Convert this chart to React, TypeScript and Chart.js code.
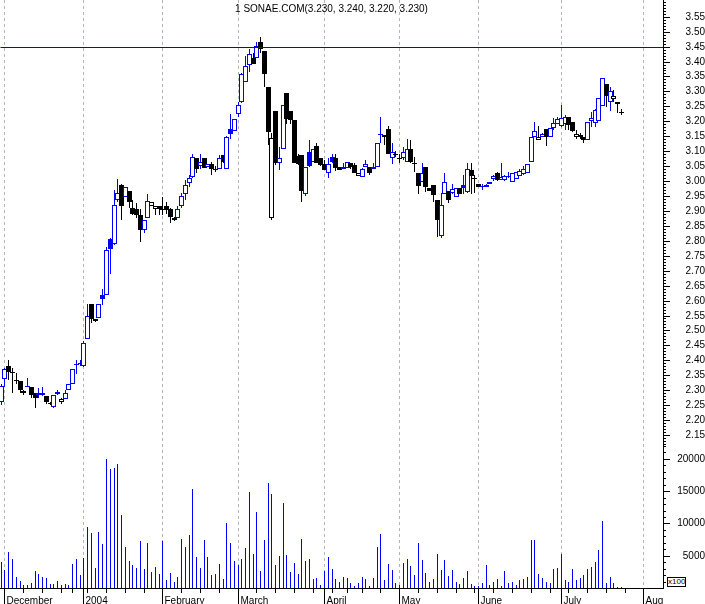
import React, { useEffect, useRef } from 'react';
import { Chart, registerables, LinearScale } from 'chart.js';

// Linear scales that snap to device pixels so thin marks render crisply
class PixelXScale extends LinearScale {
  static id = 'pixelX';
  static defaults = LinearScale.defaults;
  getPixelForValue(value: number) {
    return Math.floor(super.getPixelForValue(value)) + 0.5;
  }
}
class PixelYScale extends LinearScale {
  static id = 'pixelY';
  static defaults = LinearScale.defaults;
  getPixelForValue(value: number) {
    return Math.round(super.getPixelForValue(value));
  }
}
class HalfPixelYScale extends LinearScale {
  static id = 'halfPixelY';
  static defaults = LinearScale.defaults;
  getPixelForValue(value: number) {
    return Math.round(super.getPixelForValue(value)) + 0.5;
  }
}

Chart.register(...registerables, PixelXScale as any, PixelYScale as any, HalfPixelYScale as any);

const FONT = '"Liberation Sans", Arial, Helvetica, sans-serif';
const BLUE = '#0000ff';
const BLACK = '#000000';
const GRID = '#b4b4b4';

// Trading-day index of the first bar (0 = 1 December 2003)
const firstTradingDay = -1;

const opens = [
  2.261, 2.339, 2.381, 2.36, 2.331, 2.331, 2.29, 2.312, 2.31, 2.29,
  2.29, 2.292, 2.28, 2.253, 2.245, 2.293, 2.26, 2.27, 2.30, 2.32,
  2.385, 2.388, 2.38, 2.47, 2.588, 2.537, 2.54, 2.617, 2.62, 2.805,
  2.79, 2.935, 2.987, 2.948, 2.967, 2.91, 2.905, 2.885, 2.836, 2.875,
  2.917, 2.906, 2.917, 2.905, 2.915, 2.905, 2.87, 2.875, 2.917, 2.957,
  2.995, 3.015, 3.077, 3.05, 3.077, 3.046, 3.057, 3.039, 3.04, 3.087,
  3.04, 3.174, 3.166, 3.223, 3.265, 3.333, 3.39, 3.413, 3.413, 3.466,
  3.436, 3.316, 2.875, 3.234, 3.059, 3.106, 3.294, 3.234, 3.204, 3.085,
  3.087, 2.956, 3.096, 3.065, 3.117, 3.076, 3.057, 3.026, 3.079, 3.076,
  3.046, 3.039, 3.045, 3.059, 3.055, 3.017, 3.015, 3.046, 3.046, 3.039,
  3.046, 3.157, 3.154, 3.174, 3.076, 3.09, 3.076, 3.076, 3.065, 3.106,
  3.059, 3.026, 2.998, 3.046, 2.978, 2.987, 2.937, 2.816, 2.956, 2.967,
  2.959, 2.948, 2.976, 2.987, 2.965, 3.037, 3.01, 2.989, 2.979, 2.979,
  2.998, 3.006, 3.026, 3.004, 3.005, 3.013, 2.998, 3.006, 3.017, 3.025,
  3.026, 3.065, 3.146, 3.137, 3.149, 3.173, 3.149, 3.177, 3.19, 3.185,
  3.19, 3.215, 3.198, 3.146, 3.146, 3.146, 3.137, 3.20, 3.193, 3.20,
  3.25, 3.324, 3.266, 3.275, 3.266, 3.23,
];

const highs = [
  2.32, 2.375, 2.401, 2.374, 2.359, 2.331, 2.30, 2.34, 2.312, 2.29,
  2.306, 2.312, 2.28, 2.26, 2.284, 2.30, 2.275, 2.30, 2.32, 2.37,
  2.40, 2.40, 2.465, 2.588, 2.588, 2.537, 2.588, 2.638, 2.78, 2.81,
  2.97, 3.006, 2.99, 2.98, 2.967, 2.935, 2.925, 2.906, 2.87, 2.957,
  2.93, 2.917, 2.917, 2.948, 2.93, 2.91, 2.88, 2.915, 2.959, 3.003,
  3.02, 3.09, 3.077, 3.09, 3.077, 3.056, 3.064, 3.05, 3.087, 3.087,
  3.15, 3.224, 3.207, 3.265, 3.36, 3.42, 3.442, 3.43, 3.466, 3.483,
  3.436, 3.316, 3.16, 3.234, 3.115, 3.254, 3.294, 3.234, 3.204, 3.09,
  3.087, 3.046, 3.137, 3.106, 3.128, 3.076, 3.07, 3.076, 3.09, 3.09,
  3.046, 3.06, 3.065, 3.059, 3.059, 3.026, 3.045, 3.07, 3.046, 3.06,
  3.126, 3.215, 3.154, 3.185, 3.126, 3.10, 3.09, 3.115, 3.142, 3.137,
  3.08, 3.026, 3.059, 3.046, 2.978, 2.987, 2.937, 2.959, 3.028, 2.967,
  2.99, 2.978, 2.976, 3.02, 3.059, 3.06, 3.02, 2.99, 2.99, 2.99,
  2.998, 3.02, 3.03, 3.059, 3.02, 3.03, 3.026, 3.03, 3.04, 3.05,
  3.056, 3.149, 3.199, 3.184, 3.16, 3.173, 3.179, 3.21, 3.215, 3.254,
  3.22, 3.215, 3.198, 3.17, 3.16, 3.146, 3.199, 3.23, 3.24, 3.277,
  3.344, 3.324, 3.316, 3.305, 3.266, 3.24,
];

const lows = [
  2.25, 2.31, 2.334, 2.292, 2.321, 2.29, 2.283, 2.31, 2.273, 2.239,
  2.273, 2.28, 2.255, 2.25, 2.24, 2.285, 2.255, 2.27, 2.30, 2.32,
  2.355, 2.38, 2.379, 2.47, 2.524, 2.528, 2.54, 2.585, 2.62, 2.69,
  2.785, 2.93, 2.87, 2.945, 2.909, 2.885, 2.875, 2.797, 2.827, 2.875,
  2.917, 2.886, 2.886, 2.886, 2.89, 2.86, 2.865, 2.875, 2.91, 2.937,
  2.98, 3.01, 3.026, 3.04, 3.045, 3.046, 3.02, 3.03, 3.04, 3.06,
  3.04, 3.14, 3.166, 3.215, 3.26, 3.33, 3.366, 3.392, 3.413, 3.427,
  3.316, 3.12, 2.87, 3.054, 3.037, 3.106, 3.19, 3.19, 3.061, 3.055,
  2.93, 2.95, 3.046, 3.065, 3.059, 3.05, 3.037, 3.009, 3.06, 3.035,
  3.037, 3.039, 3.045, 3.04, 3.028, 3.017, 3.015, 3.046, 3.02, 3.039,
  3.046, 3.126, 3.12, 3.09, 3.057, 3.08, 3.06, 3.07, 3.065, 3.06,
  3.031, 2.957, 2.998, 2.965, 2.968, 2.93, 2.814, 2.81, 2.956, 2.926,
  2.955, 2.948, 2.955, 2.955, 2.96, 2.956, 2.959, 2.979, 2.97, 2.979,
  2.99, 3.0, 3.0, 3.004, 3.0, 3.01, 2.998, 3.006, 3.017, 3.02,
  3.026, 3.065, 3.146, 3.137, 3.149, 3.118, 3.149, 3.17, 3.19, 3.18,
  3.17, 3.17, 3.165, 3.14, 3.14, 3.126, 3.137, 3.18, 3.18, 3.20,
  3.25, 3.247, 3.235, 3.266, 3.227, 3.22,
];

const closes = [
  2.314, 2.37, 2.362, 2.36, 2.331, 2.301, 2.299, 2.312, 2.285, 2.275,
  2.283, 2.285, 2.26, 2.258, 2.284, 2.287, 2.27, 2.29, 2.32, 2.37,
  2.385, 2.388, 2.459, 2.55, 2.537, 2.53, 2.588, 2.606, 2.769, 2.772,
  2.92, 2.96, 2.917, 2.979, 2.93, 2.89, 2.885, 2.836, 2.87, 2.934,
  2.929, 2.917, 2.906, 2.905, 2.903, 2.88, 2.878, 2.905, 2.95, 2.987,
  3.01, 3.08, 3.04, 3.065, 3.045, 3.056, 3.04, 3.039, 3.076, 3.065,
  3.146, 3.156, 3.207, 3.254, 3.358, 3.386, 3.424, 3.392, 3.453, 3.442,
  3.357, 3.165, 3.145, 3.059, 3.076, 3.254, 3.207, 3.205, 3.061, 3.058,
  2.967, 3.046, 3.05, 3.106, 3.059, 3.055, 3.037, 3.057, 3.065, 3.045,
  3.037, 3.048, 3.065, 3.046, 3.028, 3.026, 3.039, 3.057, 3.028, 3.046,
  3.126, 3.157, 3.146, 3.09, 3.096, 3.09, 3.076, 3.096, 3.106, 3.065,
  3.059, 2.984, 3.026, 2.979, 2.968, 2.953, 2.87, 2.92, 2.998, 2.937,
  2.973, 2.978, 2.955, 2.978, 3.04, 3.017, 3.01, 2.979, 2.983, 2.987,
  2.99, 3.017, 3.004, 3.015, 3.017, 3.018, 3.026, 3.03, 3.035, 3.04,
  3.056, 3.149, 3.167, 3.149, 3.156, 3.146, 3.179, 3.195, 3.207, 3.212,
  3.215, 3.188, 3.168, 3.157, 3.155, 3.137, 3.199, 3.21, 3.238, 3.277,
  3.344, 3.285, 3.30, 3.285, 3.257, 3.23,
];

const volumes = [
  3960, 2740, 5640, 4420, 1730, 1070, 460, 460, 710, 2590,
  2130, 1680, 1580, 610, 610, 1070, 460, 610, 460, 3660,
  4570, 1980, 4720, 9450, 8530, 3050, 8690, 6860, 19960, 18440,
  18590, 19200, 11280, 6400, 4120, 3510, 3050, 7320, 2900, 7010,
  2440, 3200, 2130, 7320, 1220, 2290, 910, 1680, 7620, 6400,
  8230, 15390, 4880, 3050, 7470, 4880, 1980, 2130, 3660, 1370,
  10060, 7010, 4120, 3510, 4570, 6250, 14940, 5330, 11740, 2590,
  7470, 16310, 14630, 3510, 5030, 13110, 5180, 2440, 3810, 2130,
  7620, 4120, 4420, 1370, 1520, 460, 2590, 4880, 2900, 1370,
  910, 1680, 1520, 760, 300, 760, 1680, 1370, 300, 1520,
  6400, 8380, 1220, 3660, 2740, 760, 460, 3810, 4420, 3350,
  1980, 7010, 4270, 2290, 910, 1370, 5330, 2740, 4270, 1830,
  2740, 910, 610, 1520, 2590, 610, 300, 300, 760, 3510,
  460, 910, 1370, 300, 2590, 760, 910, 460, 1220, 1370,
  1680, 7470, 7470, 2130, 1520, 910, 760, 2900, 3050, 5330,
  1220, 910, 2900, 1220, 1520, 1980, 2900, 3200, 3960, 5940,
  10360, 760, 1680, 760, 150, 100,
];

// Axis labels and tick positions (trading-day indices)
const monthStartDays = [0, 21, 42, 62, 85, 105, 126, 148, 170];
const monthLabels = ['December', '2004', 'February', 'March', 'April', 'May', 'June', 'July', 'Aug'];
const weekStartDays = [5, 10, 15, 18, 22, 27, 32, 37, 47, 52, 57, 67, 72, 77, 82, 87, 91, 95, 100, 110, 115, 120, 125, 130, 135, 140, 145, 150, 155, 160, 165];
const priceTickLabels = [
  '2.15', '2.20', '2.25', '2.30', '2.35', '2.40', '2.45', '2.50', '2.55', '2.60',
  '2.65', '2.70', '2.75', '2.80', '2.85', '2.90', '2.95', '3.00', '3.05', '3.10',
  '3.15', '3.20', '3.25', '3.30', '3.35', '3.40', '3.45', '3.50', '3.55',
];
const volumeTickLabels = ['5000', '10000', '15000', '20000'];
const resistanceLevel = 3.45;
const titleText = '1 SONAE.COM(3.230, 3.240, 3.220, 3.230)';

// Scale ranges
const X_MIN = -1.33;
const X_MAX = 175.06;
const P_MIN = 2.1133;
const P_MAX = 3.6059;
const V_MAX = 22000;

const steps = (lo: number, hi: number, step: number) => {
  const out: { value: number }[] = [];
  for (let k = Math.ceil(lo / step - 1e-9); k * step <= hi + 1e-9; k++) {
    out.push({ value: +(k * step).toFixed(6) });
  }
  return out;
};

const noPad = (s: any) => {
  s.paddingTop = 0;
  s.paddingBottom = 0;
  s.paddingLeft = 0;
  s.paddingRight = 0;
};

export default function App() {
  const ref = useRef<HTMLCanvasElement | null>(null);

  useEffect(() => {
    const canvas = ref.current;
    if (!canvas) return;

    const days = opens.map((_, i) => firstTradingDay + i);
    const colors = closes.map((c, i) => (i === 0 || c > closes[i - 1] ? BLUE : BLACK));
    const isDoji = opens.map((o, i) => Math.abs(closes[i] - o) < 0.004);
    const fills = closes.map((c, i) => (isDoji[i] ? colors[i] : c > opens[i] ? '#ffffff' : colors[i]));
    const bodies = days.map((d, i) => {
      const o = opens[i];
      const c = closes[i];
      if (isDoji[i]) {
        const m = (o + c) / 2;
        return { x: d, y: [m - 0.0017, m + 0.0017] };
      }
      return { x: d, y: [Math.min(o, c), Math.max(o, c)] };
    });
    const wicks = days.map((d, i) => ({ x: d, y: [lows[i], highs[i]] }));
    const vols = days.map((d, i) => ({ x: d, y: volumes[i] }));

    const font = { family: FONT, size: 10 };

    const chart = new Chart(canvas, {
      type: 'bar',
      data: {
        datasets: [
          {
            type: 'line',
            data: [
              { x: X_MIN, y: resistanceLevel },
              { x: X_MAX, y: resistanceLevel },
            ],
            xAxisID: 'x',
            yAxisID: 'ym',
            borderColor: BLUE,
            backgroundColor: BLUE,
            borderWidth: 1,
            pointRadius: 0,
            fill: false,
            order: 0,
          } as any,
          {
            data: bodies as any,
            xAxisID: 'x',
            yAxisID: 'y',
            backgroundColor: fills,
            borderColor: colors,
            borderWidth: 1,
            borderSkipped: false,
            barThickness: 5,
            grouped: false,
            inflateAmount: 0,
            order: 1,
          } as any,
          {
            data: wicks as any,
            xAxisID: 'x',
            yAxisID: 'y',
            backgroundColor: colors,
            borderWidth: 0,
            barThickness: 1,
            grouped: false,
            inflateAmount: 0,
            order: 2,
          } as any,
          {
            data: vols as any,
            xAxisID: 'x',
            yAxisID: 'yv',
            backgroundColor: BLUE,
            borderWidth: 0,
            barThickness: 1,
            grouped: false,
            inflateAmount: 0,
            order: 3,
          } as any,
        ],
      },
      options: {
        animation: false,
        responsive: false,
        devicePixelRatio: 1,
        events: [],
        layout: { padding: 0, autoPadding: false },
        plugins: {
          legend: { display: false },
          tooltip: { enabled: false },
          title: { display: false },
        },
        scales: {
          x: {
            type: 'pixelX',
            position: 'bottom',
            min: X_MIN,
            max: X_MAX,
            offset: false,
            weight: 1,
            grid: {
              offset: false,
              color: GRID,
              lineWidth: 1,
              drawOnChartArea: true,
              drawTicks: true,
              tickLength: 16,
              tickColor: BLACK,
              tickWidth: 1,
            },
            border: { display: true, color: BLACK, width: 1, dash: [3, 3] },
            ticks: {
              autoSkip: false,
              maxRotation: 0,
              minRotation: 0,
              align: 'start',
              padding: -9,
              labelOffset: 2,
              color: BLACK,
              font,
              callback: (_v: any, i: number) => monthLabels[i],
            },
            afterBuildTicks: (s: any) => {
              s.ticks = monthStartDays.map((v) => ({ value: v }));
            },
            afterFit: (s: any) => {
              s.height = 16;
              noPad(s);
            },
          } as any,
          xw: {
            type: 'pixelX',
            position: 'bottom',
            min: X_MIN,
            max: X_MAX,
            offset: false,
            weight: 0,
            grid: {
              offset: false,
              drawOnChartArea: false,
              drawTicks: true,
              tickLength: 5,
              tickColor: BLACK,
            },
            border: { display: false },
            ticks: { display: false, autoSkip: false },
            afterBuildTicks: (s: any) => {
              s.ticks = weekStartDays.map((v) => ({ value: v }));
            },
            afterFit: (s: any) => {
              s.height = 0;
              noPad(s);
            },
          } as any,
          y: {
            type: 'pixelY',
            position: 'right',
            stack: 'a',
            stackWeight: 446,
            weight: 1,
            min: P_MIN,
            max: P_MAX,
            bounds: 'data',
            beginAtZero: false,
            grid: { drawOnChartArea: false, drawTicks: true, tickLength: 7, tickColor: BLACK },
            border: { display: true, color: BLACK, width: 1 },
            ticks: {
              autoSkip: false,
              crossAlign: 'far',
              padding: 11.5,
              color: BLACK,
              font,
              callback: (_v: any, i: number) => priceTickLabels[i],
            },
            afterBuildTicks: (s: any) => {
              s.ticks = priceTickLabels.map((t) => ({ value: parseFloat(t) }));
            },
            afterFit: (s: any) => {
              s.width = 42;
              noPad(s);
            },
          } as any,
          yv: {
            type: 'pixelY',
            position: 'right',
            stack: 'a',
            stackWeight: 142,
            weight: 1,
            min: 0,
            max: V_MAX,
            bounds: 'data',
            beginAtZero: false,
            grid: { drawOnChartArea: false, drawTicks: true, tickLength: 7, tickColor: BLACK },
            border: { display: true, color: BLACK, width: 1 },
            ticks: {
              autoSkip: false,
              crossAlign: 'far',
              padding: 3,
              color: BLACK,
              font,
              callback: (_v: any, i: number) => volumeTickLabels[i],
            },
            afterBuildTicks: (s: any) => {
              s.ticks = volumeTickLabels.map((t) => ({ value: parseFloat(t) }));
            },
            afterFit: (s: any) => {
              s.width = 42;
              noPad(s);
            },
          } as any,
          ym: {
            type: 'halfPixelY',
            position: 'right',
            stack: 'b',
            stackWeight: 446,
            weight: 0,
            min: P_MIN,
            max: P_MAX,
            bounds: 'data',
            beginAtZero: false,
            grid: { drawOnChartArea: false, drawTicks: true, tickLength: 3, tickColor: BLACK },
            border: { display: false },
            ticks: { display: false, autoSkip: false },
            afterBuildTicks: (s: any) => {
              s.ticks = steps(P_MIN, P_MAX, 0.01);
            },
            afterFit: (s: any) => {
              s.width = 0;
              noPad(s);
            },
          } as any,
          yvm: {
            type: 'pixelY',
            position: 'right',
            stack: 'b',
            stackWeight: 142,
            weight: 0,
            min: 0,
            max: V_MAX,
            bounds: 'data',
            beginAtZero: false,
            grid: { drawOnChartArea: false, drawTicks: true, tickLength: 3, tickColor: BLACK },
            border: { display: false },
            ticks: { display: false, autoSkip: false },
            afterBuildTicks: (s: any) => {
              s.ticks = steps(1000, V_MAX, 1000);
            },
            afterFit: (s: any) => {
              s.width = 0;
              noPad(s);
            },
          } as any,
        },
      } as any,
    });

    return () => chart.destroy();
  }, []);

  return (
    <div style={{ position: 'fixed', left: 0, top: 0, width: 705, height: 604, background: '#ffffff', overflow: 'hidden' }}>
      <canvas ref={ref} width={705} height={604} style={{ display: 'block', width: 705, height: 604 }} />
      <div
        style={{
          position: 'absolute',
          left: 0,
          top: 3,
          width: 663,
          textAlign: 'center',
          font: `10px ${FONT}`,
          lineHeight: '12px',
          color: BLACK,
          whiteSpace: 'nowrap',
          pointerEvents: 'none',
        }}
      >
        {titleText}
      </div>
      <div
        style={{
          position: 'absolute',
          left: 667,
          top: 577,
          width: 19,
          height: 10,
          border: '1px solid #000',
          boxSizing: 'border-box',
          font: `8px ${FONT}`,
          lineHeight: '8px',
          textAlign: 'center',
          color: BLACK,
          background: '#ffffff',
          whiteSpace: 'nowrap',
        }}
      >
        x100
      </div>
    </div>
  );
}
